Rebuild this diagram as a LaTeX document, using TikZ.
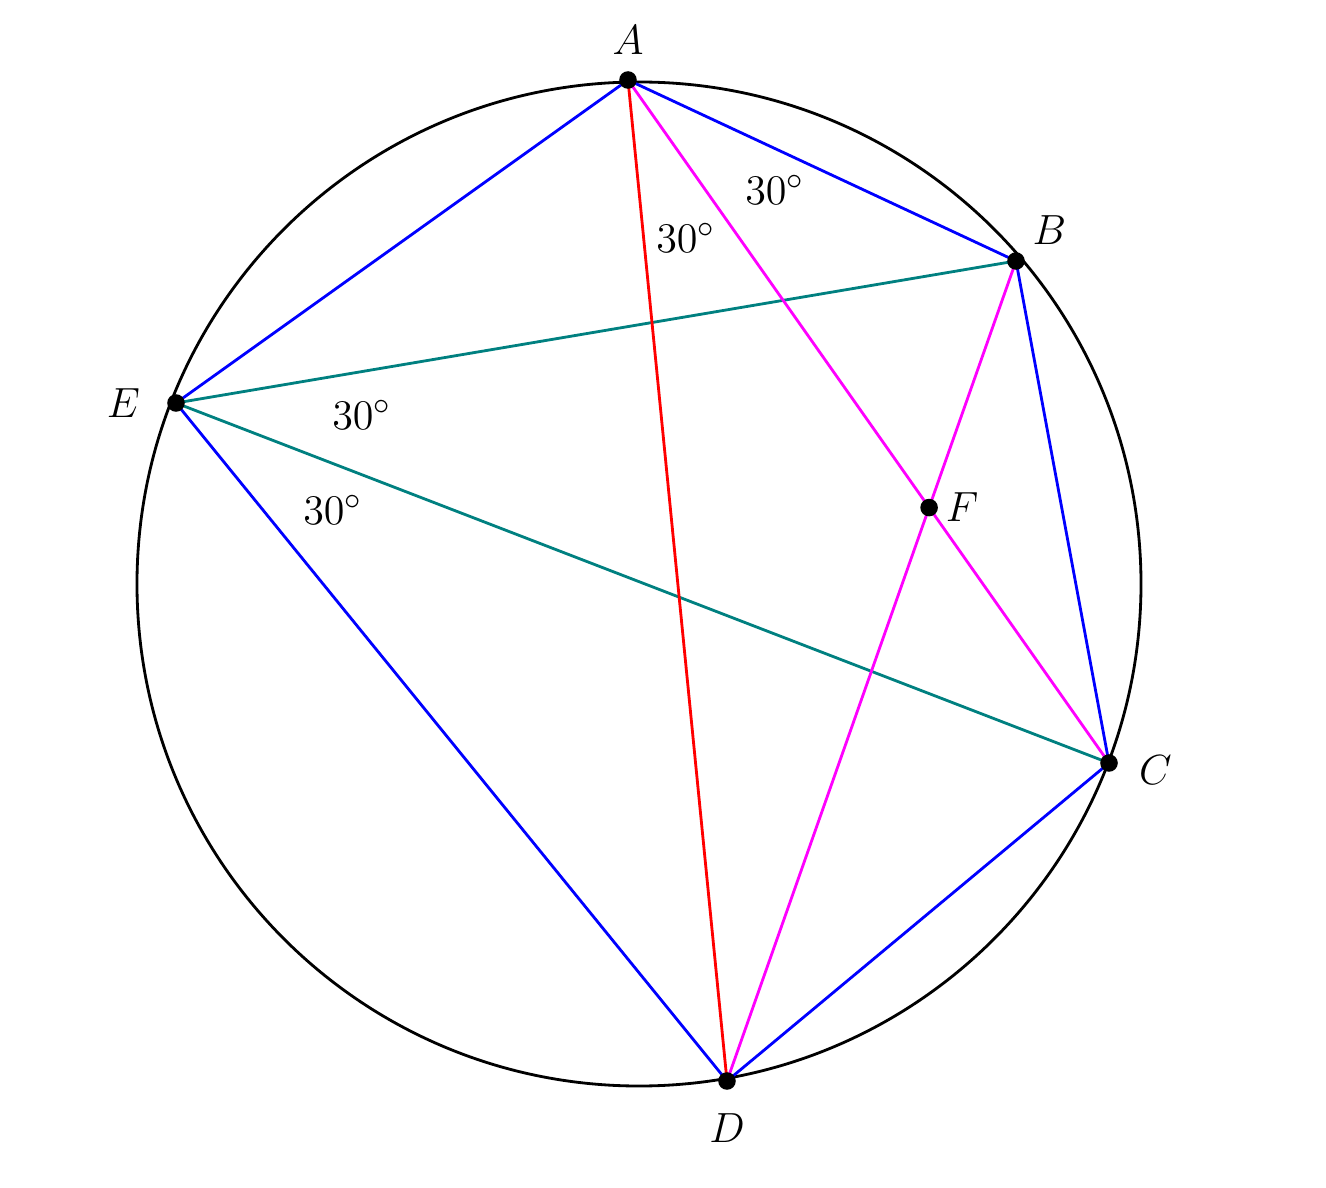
\documentclass[tikz,border=0pt]{standalone}
\usepackage{amsmath}
\usepackage{amssymb}
\usepackage{tikz}
\usetikzlibrary{backgrounds}

\definecolor{pblue}{RGB}{0,0,255}
\definecolor{pteal}{RGB}{0,128,128}
\definecolor{pmag}{RGB}{255,0,255}
\definecolor{pred}{RGB}{255,0,0}

\begin{document}
\begin{tikzpicture}
  [every node/.style={font=\fontsize{12.5}{15}\selectfont},
   pt/.style={circle,fill=black,inner sep=0pt,minimum size=5pt},
   seg/.style={line width=0.8pt}]

  \useasboundingbox (-6.39,-6.03) rectangle (6.87,5.84);
  \node[inner sep=0pt] (O) at (0,0) {};

  \node[pt,label={[label distance=1pt]above:$A$}] (A) at (-0.11,5.04) {};
  \node[pt,label={[label distance=-1pt]above right:$B$}] (B) at (3.77,3.23) {};
  \node[pt,label={[label distance=4pt]left:$E$}] (E) at (-4.63,1.81) {};
  \node[pt,label={[label distance=2.3pt,yshift=-2pt]right:$C$}] (C) at (4.70,-1.79) {};
  \node[pt,label={[label distance=3pt]below:$D$}] (D) at (0.88,-4.97) {};
  \node[pt,label={[label distance=-1.5pt]right:$F$}] (F) at (intersection of A--C and B--D) {};

  \begin{scope}[on background layer]
    \draw[seg] (O) circle (5.02);
    \foreach \from/\to in {A/E,A/B,E/D,B/C,D/C}
      \draw[seg,pblue] (\from.center) -- (\to.center);
    \foreach \from/\to in {E/B,E/C}
      \draw[seg,pteal] (\from.center) -- (\to.center);
    \foreach \from/\to in {A/C,B/D}
      \draw[seg,pmag] (\from.center) -- (\to.center);
    \draw[seg,pred] (A.center) -- (D.center);
  \end{scope}

  \node (a1) at (1.36,3.94) {$30^\circ$};
  \node (a2) at (0.47,3.46) {$30^\circ$};
  \node (e1) at (-2.77,1.69) {$30^\circ$};
  \node (e2) at (-3.06,0.74) {$30^\circ$};

\end{tikzpicture}
\end{document}
